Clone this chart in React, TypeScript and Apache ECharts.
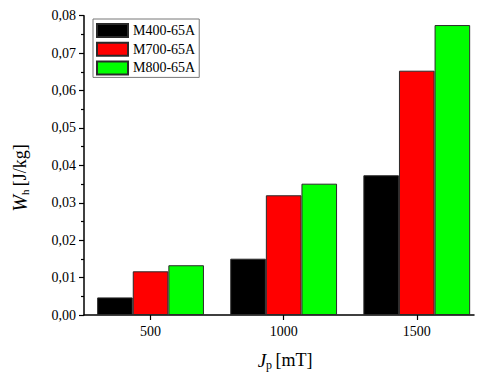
import React, { useEffect, useRef } from "react";
import * as echarts from "echarts";

const categories = [500, 1000, 1500];
const seriesNames = ["M400-65A", "M700-65A", "M800-65A"];
const m400 = [0.0047, 0.01505, 0.03735];
const m700 = [0.01168, 0.0320, 0.0653];
const m800 = [0.0133, 0.0351, 0.0775];
const yTicks = [0, 0.01, 0.02, 0.03, 0.04, 0.05, 0.06, 0.07, 0.08];
const colors = ["#000000", "#ff0000", "#00ff00"];

const FONT = "'Liberation Serif', 'Times New Roman', serif";

export default function App() {
  const ref = useRef<HTMLDivElement>(null);
  useEffect(() => {
    if (!ref.current) return;
    const chart = echarts.init(ref.current, undefined, { renderer: "svg" });
    const all = [m400, m700, m800];
    chart.setOption({
      animation: false,
      backgroundColor: "#ffffff",
      textStyle: { fontFamily: FONT },
      grid: { left: 84, right: 5, top: 15.7, bottom: 59, containLabel: false },
      legend: {
        orient: "vertical",
        left: 93,
        top: 19,
        icon: "rect",
        itemWidth: 31,
        itemHeight: 13,
        itemGap: 3.7,
        borderColor: "#777777",
        borderWidth: 1,
        padding: [4, 4, 2, 3],
        textStyle: { fontSize: 14, fontFamily: FONT, color: "#000" },
        data: seriesNames,
      },
      xAxis: {
        type: "value",
        min: 250,
        max: 1715,
        splitLine: { show: false },
        axisLine: { show: true, onZero: false, lineStyle: { color: "#000", width: 1.5 } },
        axisTick: { show: true, length: 5, customValues: categories, lineStyle: { color: "#000", width: 1.2 } },
        axisLabel: {
          customValues: categories,
          fontSize: 14,
          fontFamily: FONT,
          color: "#000",
          margin: 9,
          formatter: (v: number) => String(Math.round(v)),
        },
      },
      yAxis: {
        type: "value",
        min: 0,
        max: 0.08,
        interval: 0.01,
        splitLine: { show: false },
        axisLine: { show: true, lineStyle: { color: "#000", width: 1.5 } },
        axisTick: { show: true, length: 5, lineStyle: { color: "#000", width: 1.2 } },
        minorTick: { show: true, splitNumber: 2, length: 3, lineStyle: { color: "#000", width: 1.2 } },
        axisLabel: {
          fontSize: 14,
          fontFamily: FONT,
          color: "#000",
          margin: 8,
          formatter: (v: number) => {
            const t = yTicks.find((x) => Math.abs(x - v) < 1e-9);
            return (t !== undefined ? t : v).toFixed(2).replace(".", ",");
          },
        },
      },
      series: seriesNames.map((name, si) => ({
        name,
        type: "bar",
        barWidth: 35.6,
        barGap: "0%",
        itemStyle: { color: colors[si], borderColor: "#2a2a2a", borderWidth: 1 },
        data: categories.map((c, i) => [c, all[si][i]]),
      })),
      graphic: [
        {
          type: "text",
          x: 20,
          y: 178,
          rotation: Math.PI / 2,
          style: {
            text: "{i|W}{s|h} {n|[J/kg]}",
            align: "center",
            verticalAlign: "middle",
            fill: "#000",
            rich: {
              i: { fontSize: 20, fontStyle: "italic", fontFamily: FONT, fill: "#000" },
              s: { fontSize: 11, fontFamily: FONT, padding: [10, 0, 0, 0], fill: "#000" },
              n: { fontSize: 18, fontFamily: FONT, fill: "#000" },
            },
          },
        },
        {
          type: "text",
          x: 285,
          y: 360,
          style: {
            text: "{i|J}{s|p} {n|[mT]}",
            align: "center",
            verticalAlign: "middle",
            fill: "#000",
            rich: {
              i: { fontSize: 19, fontStyle: "italic", fontFamily: FONT, fill: "#000" },
              s: { fontSize: 12, fontFamily: FONT, padding: [10, 0, 0, 0], fill: "#000" },
              n: { fontSize: 18, fontFamily: FONT, fill: "#000" },
            },
          },
        },
      ],
    });
    return () => chart.dispose();
  }, []);
  return (
    <div
      ref={ref}
      style={{ position: "fixed", left: 0, top: 0, width: 479, height: 374, background: "#fff" }}
    />
  );
}
